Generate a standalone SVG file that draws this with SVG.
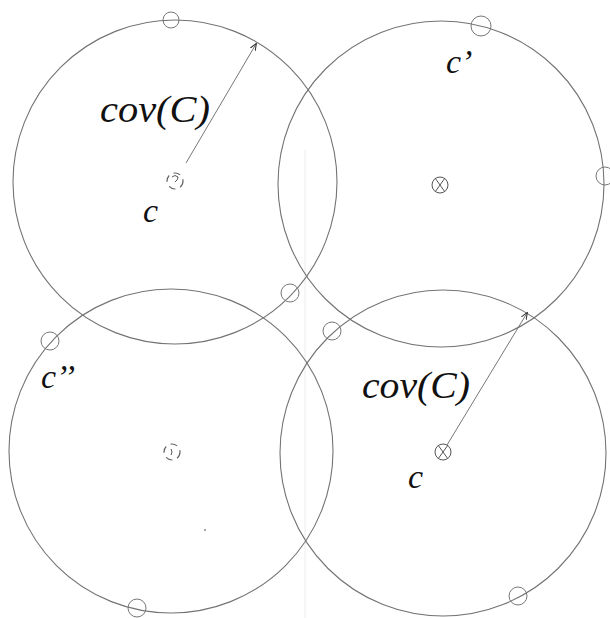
<svg xmlns="http://www.w3.org/2000/svg" width="610" height="618" viewBox="0 0 610 618">
<style>
.cov{fill:none;stroke:#737373;stroke-width:1.1}
.pt{fill:none;stroke:#777;stroke-width:1}
.mk{fill:none;stroke:#555;stroke-width:1}
.mkd{fill:none;stroke:#666;stroke-width:1.2}
.lbl{font-family:"Liberation Serif","Times New Roman",serif;font-style:italic;fill:#111}
.arr{stroke:#777;stroke-width:1;fill:none}
</style>
<defs>
<marker id="ah" viewBox="0 0 10 10" refX="9" refY="5" markerWidth="7" markerHeight="7" orient="auto" markerUnits="userSpaceOnUse">
<path d="M0,1 L10,5 L0,9" fill="none" stroke="#333" stroke-width="1.5"/>
</marker>
</defs>
<rect width="610" height="618" fill="#fff"/>
<line x1="305" y1="150" x2="305" y2="618" stroke="#ececec" stroke-width="1"/>
<g id="node-c-topleft">
<circle class="cov" cx="175" cy="182" r="162"/>
<circle class="mkd" cx="175" cy="181" r="8" stroke-dasharray="7 5"/>
<path class="mk" d="M172,177 q3,-3 6,0 q0,3 -3,5"/>
</g>
<g id="node-c-prime">
<circle class="cov" cx="441" cy="184" r="163"/>
<circle class="mk" cx="440" cy="185" r="8"/>
<path class="mk" d="M435,178 L445,192 M445,178 L435,192"/>
</g>
<g id="node-c-dprime">
<circle class="cov" cx="171" cy="451" r="162"/>
<circle class="mkd" cx="172" cy="452" r="8" stroke-dasharray="7 5"/>
<path class="mk" d="M171,449 q2,3 0,6"/>
<circle cx="205" cy="530" r="1" fill="#888"/>
</g>
<g id="node-c-bottomright">
<circle class="cov" cx="443" cy="453" r="163"/>
<circle class="mk" cx="443" cy="452" r="8"/>
<path class="mk" d="M438,445 L448,459 M448,445 L438,459"/>
</g>
<g id="boundary-points">
<circle class="pt" cx="171" cy="20" r="8"/>
<circle class="pt" cx="481" cy="26" r="10"/>
<circle class="pt" cx="605" cy="176" r="9"/>
<circle class="pt" cx="290" cy="293" r="9"/>
<circle class="pt" cx="50" cy="341" r="9"/>
<circle class="pt" cx="332" cy="331" r="9"/>
<circle class="pt" cx="137" cy="608" r="9"/>
<circle class="pt" cx="518" cy="596" r="9"/>
</g>
<g id="connectors">
<line class="arr" x1="186" y1="163" x2="256" y2="44" marker-end="url(#ah)"/>
<line class="arr" x1="447" y1="445" x2="527" y2="313" marker-end="url(#ah)"/>
</g>
<g id="labels">
<text class="lbl" x="100" y="122" font-size="37" textLength="110" lengthAdjust="spacingAndGlyphs">cov(C)</text>
<text class="lbl" x="143" y="222" font-size="34">c</text>
<text class="lbl" x="446" y="73" font-size="34">c’</text>
<text class="lbl" x="41" y="388" font-size="34">c’’</text>
<text class="lbl" x="362" y="398" font-size="37" textLength="108" lengthAdjust="spacingAndGlyphs">cov(C)</text>
<text class="lbl" x="408" y="488" font-size="34">c</text>
</g>
</svg>
